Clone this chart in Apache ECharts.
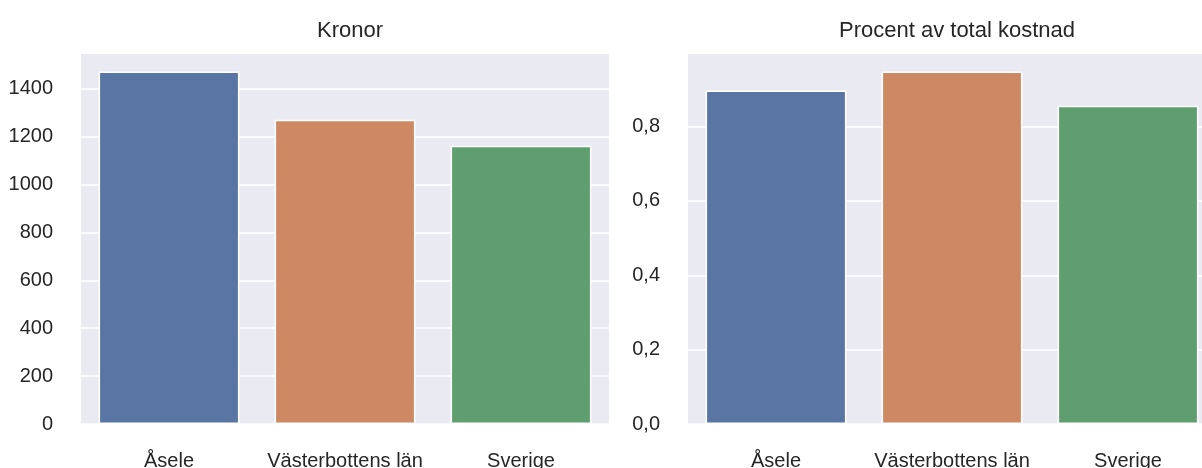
<!DOCTYPE html>
<html>
<head>
<meta charset="utf-8">
<script src="https://cdn.jsdelivr.net/npm/echarts@6/dist/echarts.min.js"></script>
<style>
html,body{margin:0;padding:0;background:#fff;}
#c{width:1202px;height:468px;}
</style>
</head>
<body>
<div id="c"></div>
<script>
var categories = ['Åsele', 'Västerbottens län', 'Sverige'];
var kronor = [1472, 1271, 1162];
var procent = [0.897, 0.948, 0.856];
var titles = ['Kronor', 'Procent av total kostnad'];
var barColors = ['#5975a4', '#cc8963', '#5f9e6e'];

var FONT = '"Liberation Sans", Arial, sans-serif';
var TXT = '#262626';

function coloredData(vals) {
  return vals.map(function (v, i) {
    return { value: v, itemStyle: { color: barColors[i] } };
  });
}

var chart = echarts.init(document.getElementById('c'), null, { renderer: 'canvas' });

var grids = [
  { left: 81, top: 54, width: 528, height: 370 },
  { left: 688, top: 54, width: 528, height: 370 }
];

var option = {
  backgroundColor: '#ffffff',
  animation: false,
  title: [
    { text: titles[0], left: 345, top: 15, textAlign: 'center',
      textStyle: { fontFamily: FONT, fontSize: 22, fontWeight: 'normal', color: TXT } },
    { text: titles[1], left: 952, top: 15, textAlign: 'center',
      textStyle: { fontFamily: FONT, fontSize: 22, fontWeight: 'normal', color: TXT } }
  ],
  grid: grids.map(function (g) {
    return Object.assign({ show: true, backgroundColor: '#eaeaf2', borderWidth: 0,
      containLabel: false, outerBoundsMode: 'none' }, g);
  }),
  xAxis: [0, 1].map(function (i) {
    return {
      type: 'category', gridIndex: i, data: categories,
      axisLine: { show: false }, axisTick: { show: false }, splitLine: { show: false },
      axisLabel: { fontFamily: FONT, fontSize: 20, color: TXT, margin: 27, interval: 0 }
    };
  }),
  yAxis: [
    {
      type: 'value', gridIndex: 0, min: 0, max: Math.max.apply(null, kronor) * 1.05, interval: 200,
      axisLine: { show: false }, axisTick: { show: false },
      splitLine: { show: true, showMaxLine: false, lineStyle: { color: '#ffffff', width: 1.6 } },
      axisLabel: { fontFamily: FONT, fontSize: 20, color: TXT, margin: 28, showMaxLabel: false,
        formatter: function (v) { return (v % 200 === 0) ? String(v) : ''; } }
    },
    {
      type: 'value', gridIndex: 1, min: 0, max: Math.max.apply(null, procent) * 1.05, interval: 0.2,
      axisLine: { show: false }, axisTick: { show: false },
      splitLine: { show: true, showMaxLine: false, lineStyle: { color: '#ffffff', width: 1.6 } },
      axisLabel: { fontFamily: FONT, fontSize: 20, color: TXT, margin: 28, showMaxLabel: false,
        formatter: function (v) {
          var r = Math.round(v * 10) / 10;
          if (Math.abs(r - v) > 1e-6) return '';
          return r.toFixed(1).replace('.', ',');
        } }
    }
  ],
  series: [
    {
      type: 'bar', xAxisIndex: 0, yAxisIndex: 0, data: coloredData(kronor),
      barCategoryGap: '20%',
      itemStyle: { borderColor: '#ffffff', borderWidth: 1.5 }
    },
    {
      type: 'bar', xAxisIndex: 1, yAxisIndex: 1, data: coloredData(procent),
      barCategoryGap: '20%',
      itemStyle: { borderColor: '#ffffff', borderWidth: 1.5 }
    }
  ]
};
chart.setOption(option);
</script>
</body>
</html>
